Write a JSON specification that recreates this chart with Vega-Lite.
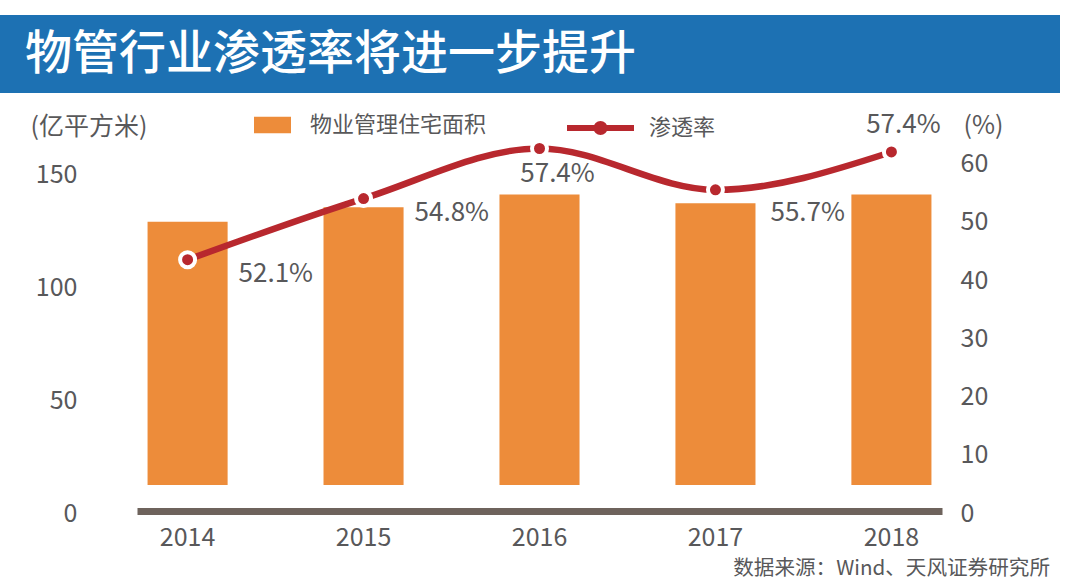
{
  "$schema": "https://vega.github.io/schema/vega-lite/v6.json",
  "padding": {"left": 0, "top": 15, "right": 0, "bottom": 0},
  "background": "white",
  "spacing": 0,
  "bounds": "flush",
  "config": {"font": "Noto Sans CJK SC", "view": {"stroke": null}},
  "vconcat": [
    {
      "width": 1060,
      "height": 78,
      "view": {"fill": "#1d71b3", "stroke": null},
      "data": {"values": [{"heading": "物管行业渗透率将进一步提升"}]},
      "mark": {"type": "text", "align": "left", "baseline": "middle", "dx": -505, "dy": 1, "fontSize": 47, "fontWeight": 500, "color": "white"},
      "encoding": {"text": {"field": "heading", "type": "nominal"}}
    },
    {
      "width": 1080,
      "height": 420,
      "data": {"values": [
        {"year": "2014", "area": 129.0, "rate": 43.5, "label": "52.1%"},
        {"year": "2015", "area": 135.4, "rate": 54.0, "label": "54.8%"},
        {"year": "2016", "area": 141.1, "rate": 62.6, "label": "57.4%"},
        {"year": "2017", "area": 137.2, "rate": 55.5, "label": "55.7%"},
        {"year": "2018", "area": 141.1, "rate": 62.0, "label": "57.4%"}
      ]},
      "title": {"text": "数据来源：Wind、天风证券研究所", "orient": "bottom", "anchor": "end", "frame": "group", "fontSize": 20.6, "fontWeight": "normal", "color": "#58585a", "offset": 9, "dx": -30},
      "encoding": {
        "x": {
          "field": "year", "type": "ordinal",
          "scale": {"range": [137, 942], "paddingInner": 0.545, "paddingOuter": 0.06},
          "axis": {"title": null, "labelAngle": 0, "domain": true, "domainColor": "#6e635c", "domainWidth": 7, "domainCap": "butt", "ticks": false, "tickSize": 0, "labelPadding": 14, "labelFontSize": 25, "labelColor": "#58585a", "offset": -2, "grid": false}
        }
      },
      "layer": [
        {
          "mark": {"type": "bar", "opacity": 1},
          "encoding": {
            "y": {
              "field": "area", "type": "quantitative",
              "scale": {"domain": [0, 186], "nice": false, "zero": true},
              "axis": {"orient": "left", "values": [0, 50, 100, 150], "title": "(亿平方米)", "titleAngle": 0, "titleX": -47, "titleY": 33.7, "titleAlign": "left", "titleBaseline": "middle", "titleFontSize": 25, "titleFontWeight": "normal", "titleColor": "#58585a", "domain": false, "ticks": false, "tickSize": 0, "labelPadding": 0, "offset": -77, "labelFontSize": 25, "labelColor": "#58585a", "grid": false, "labelOverlap": false}
            },
            "y2": {"datum": 12.4},
            "color": {
              "datum": "物业管理住宅面积",
              "scale": {"range": ["#ed8c3a"]},
              "legend": {"orient": "none", "legendX": 254, "legendY": 91.5, "title": null, "symbolType": "M-1,-0.45H1V0.45H-1Z", "symbolSize": 1369, "symbolStrokeWidth": 0, "symbolOpacity": 1, "labelOffset": 19, "labelFontSize": 22, "labelLimit": 400, "labelColor": "#58585a", "padding": 0}
            }
          }
        },
        {
          "encoding": {
            "y": {
              "field": "rate", "type": "quantitative",
              "scale": {"domain": [0, 72.13], "nice": false, "zero": true},
              "axis": {"orient": "right", "values": [0, 10, 20, 30, 40, 50, 60], "title": "(%)", "titleAngle": 0, "titleX": 3, "titleY": 32, "titleAlign": "left", "titleBaseline": "middle", "titleFontSize": 25, "titleFontWeight": "normal", "titleColor": "#58585a", "domain": false, "ticks": false, "tickSize": 0, "labelPadding": 0, "offset": -120, "labelFontSize": 25, "labelColor": "#58585a", "grid": false, "labelOverlap": false}
            }
          },
          "layer": [
            {
              "mark": {"type": "line", "interpolate": "monotone", "strokeWidth": 6.5},
              "encoding": {
                "stroke": {
                  "datum": "渗透率",
                  "scale": {"range": ["#b8282e"]},
                  "legend": {"orient": "none", "legendX": 564, "legendY": 76.5, "title": null, "symbolType": "M-1,0H1M-0.12,0A0.12,0.12,0,1,1,0.12,0A0.12,0.12,0,1,1,-0.12,0", "symbolSize": 4489, "symbolStrokeWidth": 6, "symbolFillColor": "#b8282e", "labelOffset": 12, "labelFontSize": 22, "labelLimit": 400, "labelColor": "#58585a", "padding": 0}
                }
              }
            },
            {
              "mark": {"type": "point", "shape": "circle", "filled": true, "fill": "#b8282e", "stroke": "white", "strokeWidth": 4, "size": 225, "opacity": 1}
            },
            {
              "transform": [{"filter": "datum.year == '2014' || datum.year == '2015'"}],
              "mark": {"type": "text", "align": "left", "baseline": "middle", "dx": 51, "dy": 14, "fontSize": 26, "color": "#58585a"},
              "encoding": {"text": {"field": "label", "type": "nominal"}}
            },
            {
              "transform": [{"filter": "datum.year == '2017'"}],
              "mark": {"type": "text", "align": "left", "baseline": "middle", "dx": 55, "dy": 23, "fontSize": 26, "color": "#58585a"},
              "encoding": {"text": {"field": "label", "type": "nominal"}}
            },
            {
              "transform": [{"filter": "datum.year == '2016'"}],
              "mark": {"type": "text", "align": "center", "baseline": "middle", "dx": 18, "dy": 26, "fontSize": 26, "color": "#58585a"},
              "encoding": {"text": {"field": "label", "type": "nominal"}}
            },
            {
              "transform": [{"filter": "datum.year == '2018'"}],
              "mark": {"type": "text", "align": "center", "baseline": "middle", "dx": 12, "dy": -27, "fontSize": 26, "color": "#58585a"},
              "encoding": {"text": {"field": "label", "type": "nominal"}}
            }
          ]
        }
      ],
      "resolve": {"scale": {"y": "independent"}}
    }
  ]
}
